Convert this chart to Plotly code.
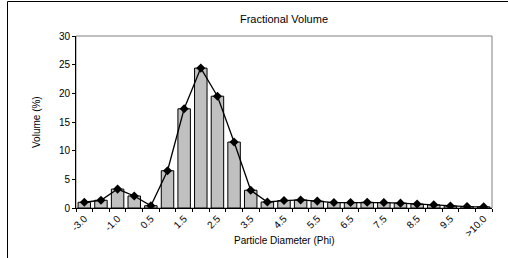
import plotly.graph_objects as go

categories = ["-3.0", "-2.0", "-1.0", "0.0", "0.5", "1.0", "1.5", "2.0", "2.5", "3.0",
              "3.5", "4.0", "4.5", "5.0", "5.5", "6.0", "6.5", "7.0", "7.5", "8.0",
              "8.5", "9.0", "9.5", "10.0", ">10.0"]
volume = [1.0, 1.35, 3.3, 2.1, 0.4, 6.5, 17.3, 24.4, 19.5, 11.5,
          3.1, 1.05, 1.3, 1.4, 1.2, 0.95, 0.95, 1.0, 0.95, 0.85,
          0.7, 0.55, 0.35, 0.25, 0.2]
tick_labels = [c if i % 2 == 0 else "" for i, c in enumerate(categories)]
y_ticks = [0, 5, 10, 15, 20, 25, 30]

FONT = "Liberation Sans, Arial, sans-serif"

fig = go.Figure()
fig.add_trace(go.Bar(x=categories, y=volume, marker=dict(color="#C0C0C0", line=dict(color="black", width=1)),
                     showlegend=False, hoverinfo="skip"))
fig.add_trace(go.Scatter(x=categories, y=volume, mode="lines+markers",
                         line=dict(color="black", width=1.3),
                         marker=dict(symbol="diamond", size=7, color="black"),
                         showlegend=False))

L, R, T, B = 76, 16, 36, 50
W, H = 508, 258
pw, ph = W - L - R, H - T - B

bx0 = (7.5 - L) / pw
bx1 = (W - L) / pw
by_top = (H - B - 1.5) / ph
by_bot = (H - B - H) / ph

fig.update_layout(
    width=W, height=H,
    margin=dict(l=L, r=R, t=T, b=B, pad=0, autoexpand=False),
    paper_bgcolor="white", plot_bgcolor="white",
    bargap=0.25,
    font=dict(family=FONT, size=10, color="black"),
    title=dict(text="Fractional Volume", x=(L + pw / 2) / W, xanchor="center",
               y=1 - 19 / H, yanchor="middle", font=dict(size=11, family=FONT)),
    xaxis=dict(type="category", tickmode="array", tickvals=categories, ticktext=tick_labels,
               tickangle=-45, tickson="boundaries", ticks="outside", ticklen=3, tickcolor="black",
               showline=True, linecolor="black", linewidth=1, showgrid=False, zeroline=False,
               tickfont=dict(size=10), range=[-0.5, len(categories) - 0.5], automargin=False),
    yaxis=dict(range=[0, 30], tickmode="array", tickvals=y_ticks, ticks="outside", ticklen=3,
               tickcolor="black", showline=True, linecolor="black", linewidth=1,
               showgrid=False, zeroline=False, tickfont=dict(size=10), automargin=False),
    annotations=[
        dict(text="Particle Diameter (Phi)", xref="paper", yref="paper", x=0.5, y=(H - B - 241) / ph,
             xanchor="center", yanchor="middle", showarrow=False, font=dict(size=10)),
        dict(text="Volume (%)", xref="paper", yref="paper", x=(36 - L) / pw, y=(H - B - 122) / ph,
             xanchor="center", yanchor="middle", textangle=-90, showarrow=False, font=dict(size=10)),
    ],
    shapes=[
        dict(type="rect", xref="paper", yref="paper", x0=0, x1=1, y0=0, y1=1,
             line=dict(color="#808080", width=1), layer="below"),
        dict(type="line", xref="paper", yref="paper", x0=bx0, x1=bx0, y0=by_bot, y1=by_top,
             line=dict(color="black", width=1)),
        dict(type="line", xref="paper", yref="paper", x0=bx0, x1=bx1, y0=by_top, y1=by_top,
             line=dict(color="black", width=1)),
    ],
)

fig.write_html("out.html", config={"displayModeBar": False},
               post_script="document.body.style.margin='0';document.body.style.overflow='hidden';"
                           "document.documentElement.style.overflow='hidden';")
